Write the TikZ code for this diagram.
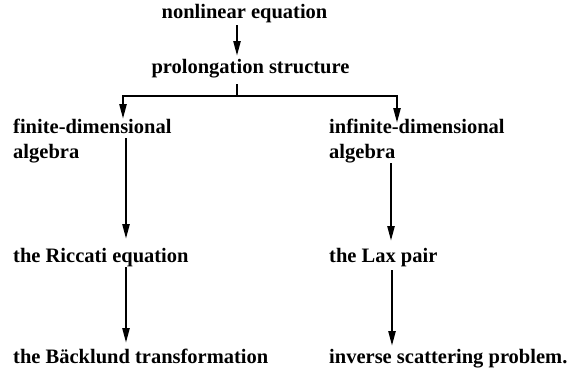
\documentclass[tikz,border=0pt]{standalone}
\usepackage{fontspec}
\setmainfont{Liberation Serif}
\usetikzlibrary{arrows.meta}
\begin{document}
\begin{tikzpicture}[x=1pt,y=-1pt,
  lbl/.style={inner sep=0pt,anchor=base west,font=\fontsize{20.5}{25}\selectfont\bfseries},
  lblc/.style={lbl,anchor=base},
  conn/.style={line width=2.4pt},
  arr/.style={conn,-{Triangle[length=15pt,width=7pt]}}]
\useasboundingbox (0,0) rectangle (577,370);
\node[lblc] (nle) at (244.5,18) {nonlinear equation};
\node[lblc] (pro) at (250.5,73) {prolongation structure};
\node[lbl] (fin1) at (13,133) {finite-dimensional};
\node[lbl] (fin2) at (13,158) {algebra};
\node[lbl] (inf1) at (329,133) {infinite-dimensional};
\node[lbl] (inf2) at (329,158) {algebra};
\node[lbl] (ric) at (13,262) {the Riccati equation};
\node[lbl] (lax) at (329,262) {the Lax pair};
\node[lbl] (bac) at (13,363) {the Bäcklund transformation};
\node[lbl] (isp) at (329,363) {inverse scattering problem.};
% connector points
\coordinate (a1) at (237,25);
\coordinate (a2) at (237,56);
\coordinate (s1) at (237,84);
\coordinate (j) at (237,96);
\coordinate (lt) at (123,119);
\coordinate (rt) at (397,123);
\coordinate (l1s) at (126,138);
\coordinate (l1e) at (126,239);
\coordinate (l2s) at (126,267);
\coordinate (l2e) at (126,343);
\coordinate (r1s) at (391,163);
\coordinate (r1e) at (391,241);
\coordinate (r2s) at (392,270);
\coordinate (r2e) at (392,346);
\draw[arr] (a1) -- (a2);
\draw[conn] (s1) -- (j);
\draw[arr] (j) -| (lt);
\draw[arr] (j) -| (rt);
\draw[arr] (l1s) -- (l1e);
\draw[arr] (l2s) -- (l2e);
\draw[arr] (r1s) -- (r1e);
\draw[arr] (r2s) -- (r2e);
\end{tikzpicture}
\end{document}
